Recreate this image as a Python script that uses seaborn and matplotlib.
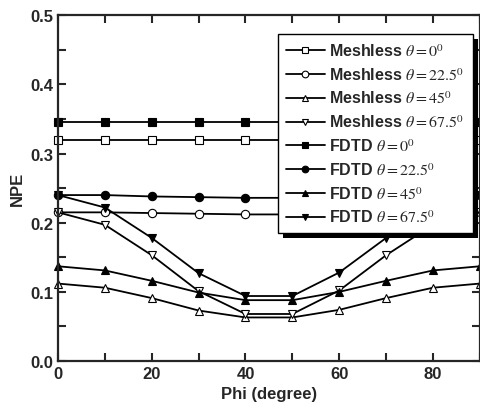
import numpy as np
import pandas as pd
import matplotlib
matplotlib.use("Agg")
import matplotlib.pyplot as plt
import seaborn as sns
from matplotlib.patches import Rectangle
from matplotlib.ticker import MultipleLocator

phi = [0, 10, 20, 30, 40, 50, 60, 70, 80, 90]

meshless_0 = [0.320, 0.320, 0.320, 0.320, 0.320, 0.320, 0.320, 0.320, 0.320, 0.320]
meshless_225 = [0.215, 0.215, 0.214, 0.213, 0.212, 0.212, 0.213, 0.214, 0.215, 0.215]
meshless_45 = [0.112, 0.106, 0.091, 0.073, 0.063, 0.063, 0.074, 0.091, 0.106, 0.112]
meshless_675 = [0.215, 0.197, 0.153, 0.101, 0.068, 0.068, 0.102, 0.153, 0.197, 0.215]
fdtd_0 = [0.345, 0.345, 0.345, 0.345, 0.345, 0.345, 0.345, 0.345, 0.345, 0.345]
fdtd_225 = [0.240, 0.240, 0.238, 0.237, 0.236, 0.236, 0.237, 0.238, 0.240, 0.240]
fdtd_45 = [0.137, 0.131, 0.116, 0.099, 0.088, 0.088, 0.100, 0.116, 0.131, 0.137]
fdtd_675 = [0.240, 0.222, 0.178, 0.127, 0.094, 0.094, 0.128, 0.178, 0.222, 0.240]

series = [
    (r"Meshless $\theta = 0^0$", meshless_0, "s", "white"),
    (r"Meshless $\theta = 22.5^0$", meshless_225, "o", "white"),
    (r"Meshless $\theta = 45^0$", meshless_45, "^", "white"),
    (r"Meshless $\theta = 67.5^0$", meshless_675, "v", "white"),
    (r"FDTD $\theta = 0^0$", fdtd_0, "s", "black"),
    (r"FDTD $\theta = 22.5^0$", fdtd_225, "o", "black"),
    (r"FDTD $\theta = 45^0$", fdtd_45, "^", "black"),
    (r"FDTD $\theta = 67.5^0$", fdtd_675, "v", "black"),
]

sns.set_style("ticks")
plt.rcParams["font.family"] = ["Liberation Sans", "DejaVu Sans"]
plt.rcParams["mathtext.fontset"] = "stix"

fig = plt.figure(figsize=(4.81, 4.14), dpi=100)
ax = fig.add_axes([0.1206, 0.1256, 0.877, 0.835])

for label, vals, mk, fc in series:
    df = pd.DataFrame({"phi": phi, "npe": vals})
    sns.lineplot(data=df, x="phi", y="npe", ax=ax, color="black", lw=1.3,
                 marker=mk, markersize=6, markerfacecolor=fc,
                 markeredgecolor="black", markeredgewidth=0.8, label=label,
                 clip_on=False)

ax.set_xlim(0, 90)
ax.set_ylim(0, 0.5)
ax.xaxis.set_major_locator(MultipleLocator(20))
ax.xaxis.set_minor_locator(MultipleLocator(10))
ax.yaxis.set_major_locator(MultipleLocator(0.1))
ax.yaxis.set_minor_locator(MultipleLocator(0.05))
ax.tick_params(which="both", direction="in", top=True, right=True,
               length=5.5, width=1.5, labelsize=12)
for lab in ax.get_xticklabels() + ax.get_yticklabels():
    lab.set_fontweight("bold")
for sp in ax.spines.values():
    sp.set_linewidth(1.6)
    sp.set_visible(True)

ax.set_xlabel("Phi (degree)", fontsize=12, fontweight="bold", labelpad=4)
ax.set_ylabel("NPE", fontsize=12, fontweight="bold", labelpad=4)

leg = ax.legend(loc="upper right", bbox_to_anchor=(0.983, 0.945),
                borderaxespad=0, frameon=True, fancybox=False,
                edgecolor="black", framealpha=1, handlelength=2.5,
                handletextpad=0.25, labelspacing=0.45, borderpad=0.5,
                markerscale=0.8,
                prop={"size": 11.5, "weight": "bold"}, numpoints=1)
leg.get_frame().set_linewidth(1.0)
leg.set_zorder(6)

fig.canvas.draw()
bb = leg.get_window_extent().transformed(ax.transAxes.inverted())
dx = 5 / (ax.bbox.width)
dy = 5 / (ax.bbox.height)
ax.add_patch(Rectangle((bb.x0 + dx, bb.y0 - dy), bb.width, bb.height,
                       transform=ax.transAxes, facecolor="black",
                       edgecolor="none", zorder=5.9, clip_on=False))

fig.savefig("out.png", dpi=100)
